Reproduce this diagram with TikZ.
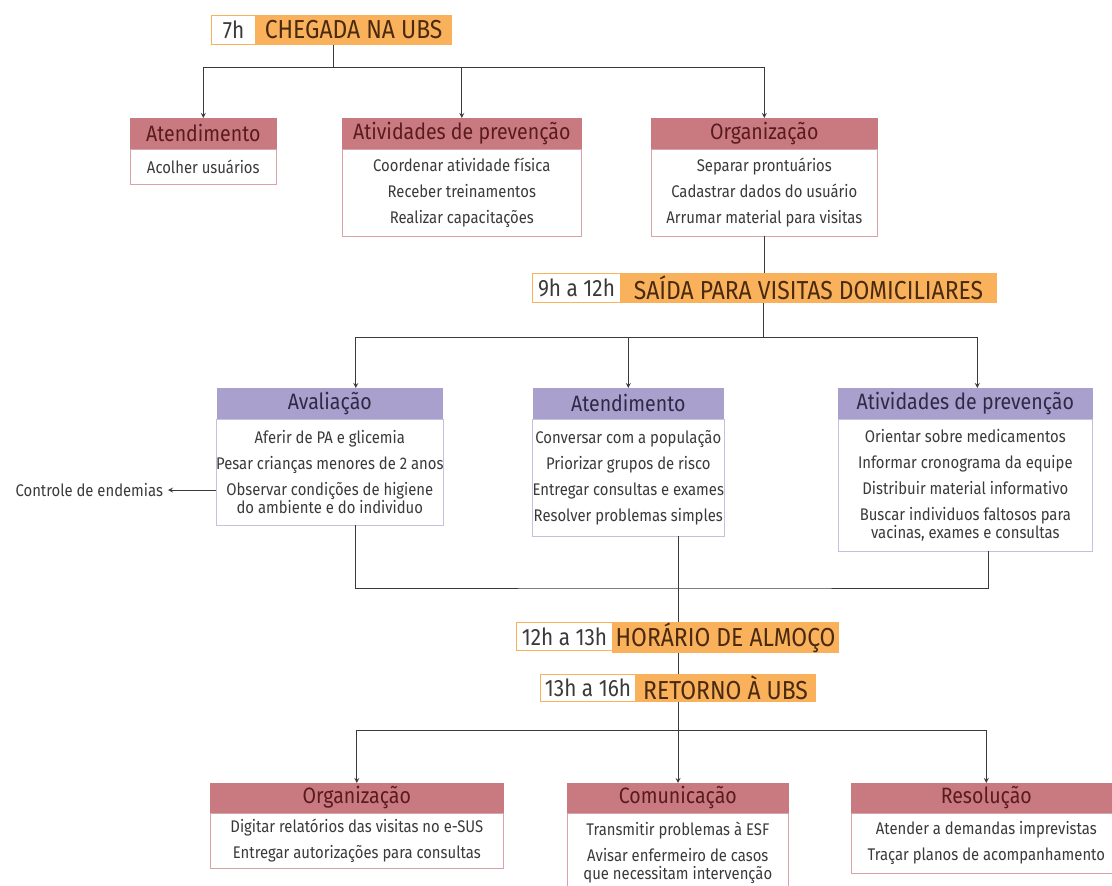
\documentclass[tikz,border=0pt]{standalone}
\usepackage{fontspec}
\setmainfont{Fira Sans}[FakeStretch=0.88]
\usetikzlibrary{positioning,calc}
\definecolor{laranja}{HTML}{F9B15C}
\definecolor{rosa}{HTML}{C97A80}
\definecolor{rosaborda}{HTML}{D8A3A8}
\definecolor{lilas}{HTML}{AAA0CE}
\definecolor{lilasborda}{HTML}{C6BFDF}
\definecolor{vinho}{HTML}{5A1B20}
\definecolor{roxo}{HTML}{2E2A45}
\definecolor{marrom}{HTML}{4A2A0E}
\definecolor{cinza}{HTML}{3A3A3A}

\tikzset{
  hora/.style={draw=laranja, fill=white, line width=0.7pt, anchor=north west, inner sep=0pt,
    minimum height=0.725cm, text=cinza, font=\fontsize{16.8}{19}\selectfont},
  etapa/.style={fill=laranja, draw=laranja, line width=0.7pt, anchor=north west, inner sep=0pt,
    minimum height=0.725cm, text=marrom, font=\fontsize{18.5}{21}\selectfont},
  cabrosa/.style={fill=rosa, draw=rosa, anchor=north west, inner sep=0pt,
    minimum height=0.75cm, text=vinho, font=\fontsize{15.8}{18}\selectfont},
  cablilas/.style={fill=lilas, draw=lilas, anchor=north west, inner sep=0pt,
    minimum height=0.75cm, text=roxo, font=\fontsize{15.8}{18}\selectfont},
  corpo/.style={fill=white, line width=0.6pt, inner sep=0pt, align=center, text=cinza,
    font=\fontsize{12}{12.5}\selectfont},
  corporosa/.style={corpo, draw=rosaborda},
  corpolilas/.style={corpo, draw=lilasborda},
  fio/.style={draw=cinza, line width=0.6pt},
  seta/.style={fio, -stealth},
}

\begin{document}
\begin{tikzpicture}[x=0.025cm, y=-0.025cm]
    \useasboundingbox (0,0) rectangle (1112,886);
    \clip (0,0) rectangle (1112,886);

    % 7h
    \node[hora, minimum width=1.1cm] (t1h) at (211,15) {7h};
    \node[etapa, minimum width=4.9cm] (t1t) at (255,15) {CHEGADA NA UBS};

    \node[cabrosa, minimum width=3.65cm] (a1h) at (130,118) {Atendimento};
    \node[corporosa, minimum width=3.65cm, minimum height=0.875cm, below=0pt of a1h] (a1b)
      {Acolher usuários};
    \node[cabrosa, minimum width=5.975cm] (a2h) at (342,118) {Atividades de prevenção};
    \node[corporosa, minimum width=5.975cm, minimum height=2.175cm, below=0pt of a2h] (a2b)
      {Coordenar atividade física\\[6pt] Receber treinamentos\\[6pt] Realizar capacitações};
    \node[cabrosa, minimum width=5.65cm] (a3h) at (651,118) {Organização};
    \node[corporosa, minimum width=5.65cm, minimum height=2.175cm, below=0pt of a3h] (a3b)
      {Separar prontuários\\[6pt] Cadastrar dados do usuário\\[6pt] Arrumar material para visitas};

    % 9h a 12h
    \node[hora, minimum width=2.2cm] (t2h) at (532,273) {9h a 12h};
    \node[etapa, minimum width=9.4cm] (t2t) at (620,273) {SAÍDA PARA VISITAS DOMICILIARES};

    \node[cablilas, minimum width=5.625cm] (b1h) at (217,388) {Avaliação};
    \node[corpolilas, minimum width=5.625cm, minimum height=2.65cm, below=0pt of b1h] (b1b)
      {Aferir de PA e glicemia\\[6pt] Pesar crianças menores de 2 anos\\[6pt]
       Observar condições de higiene\\ do ambiente e do individuo};
    \node[cablilas, minimum width=4.75cm] (b2h) at (533,388) {Atendimento};
    \node[corpolilas, minimum width=4.75cm, minimum height=2.925cm, below=0pt of b2h] (b2b)
      {Conversar com a população\\[6pt] Priorizar grupos de risco\\[6pt]
       Entregar consultas e exames\\[6pt] Resolver problemas simples};
    \node[cablilas, minimum width=6.35cm] (b3h) at (838,388) {Atividades de prevenção};
    \node[corpolilas, minimum width=6.35cm, minimum height=3.3cm, below=0pt of b3h] (b3b)
      {Orientar sobre medicamentos\\[6pt] Informar cronograma da equipe\\[6pt]
       Distribuir material informativo\\[6pt] Buscar individuos faltosos para\\
       vacinas, exames e consultas};
    \node[anchor=east, text=cinza, font=\fontsize{12}{12.5}\selectfont] (endemias) at (168,490)
      {Controle de endemias};

    % 12h a 13h e 13h a 16h
    \node[hora, minimum width=2.4cm, minimum height=0.7cm] (t3h) at (516,622) {12h a 13h};
    \node[etapa, minimum width=5.65cm, minimum height=0.7cm] (t3t) at (612,622) {HORÁRIO DE ALMOÇO};
    \node[hora, minimum width=2.375cm, minimum height=0.675cm] (t4h) at (540,674) {13h a 16h};
    \node[etapa, minimum width=4.5cm, minimum height=0.675cm] (t4t) at (635,674) {RETORNO À UBS};

    \node[cabrosa, minimum width=7.325cm, minimum height=0.725cm] (c1h) at (210,783) {Organização};
    \node[corporosa, minimum width=7.325cm, minimum height=1.375cm, below=0pt of c1h] (c1b)
      {Digitar relatórios das visitas no e-SUS\\[6pt] Entregar autorizações para consultas};
    \node[cabrosa, minimum width=5.525cm, minimum height=0.725cm] (c2h) at (567,783) {Comunicação};
    \node[corporosa, minimum width=5.525cm, minimum height=2cm, below=0pt of c2h] (c2b)
      {Transmitir problemas à ESF\\[6pt] Avisar enfermeiro de casos\\ que necessitam intervenção};
    \node[cabrosa, minimum width=6.75cm, minimum height=0.725cm] (c3h) at (851,783) {Resolução};
    \node[corporosa, minimum width=6.75cm, minimum height=1.5cm, below=0pt of c3h] (c3b)
      {Atender a demandas imprevistas\\[6pt] Traçar planos de acompanhamento};

    % ligacoes
    \coordinate (j1) at (333,67);
    \draw[fio] (t1t.south -| j1) -- (j1);
    \draw[seta] (j1) -| (a1h.north);
    \draw[seta] (j1) -| (a2h.north);
    \draw[seta] (j1) -| (a3h.north);
    \draw[fio] (a3b.south) -- (a3b.south |- t2t.north);

    \coordinate (j2) at (763,337);
    \draw[fio] (j2 |- t2t.south) -- (j2);
    \draw[seta] (j2) -| ($(b1h.north)+(26,0)$);
    \draw[seta] (j2) -| (b2h.north);
    \draw[seta] (j2) -| ($(b3h.north)+(12,0)$);
    \draw[seta] (b1b.west |- endemias) -- (endemias.east);

    \coordinate (j3) at (678,588);
    \draw[fio] ($(b1b.south)+(26,0)$) |- (j3) -| ($(b3b.south)+(23,0)$);
    \draw[fio] (b2b.south -| j3) -- (t3t.north -| j3);
    \draw[fio] (t3t.south -| j3) -- (t4t.north -| j3);

    \coordinate (j4) at (678,730);
    \draw[fio] (t4t.south -| j4) -- (j4);
    \draw[seta] (j4) -| (c1h.north);
    \draw[seta] (j4) -- (c2h.north -| j4);
    \draw[seta] (j4) -| (c3h.north);
\end{tikzpicture}
\end{document}
